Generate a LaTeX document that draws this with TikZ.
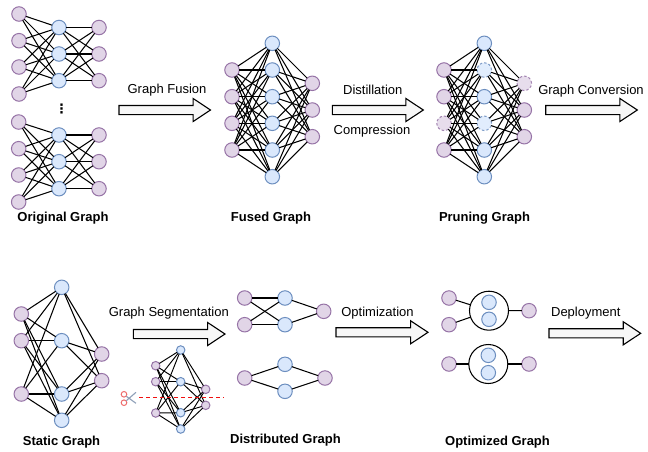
\documentclass[tikz,border=0pt]{standalone}
\usepackage{fontspec}
\setmainfont{Liberation Sans}
\newfontfamily\dotsfont{DejaVu Sans}
\usetikzlibrary{shapes.arrows}
\definecolor{pfill}{HTML}{E1D5E7}
\definecolor{pline}{HTML}{9673A6}
\definecolor{bfill}{HTML}{DAE8FC}
\definecolor{bline}{HTML}{6C8EBF}
\definecolor{cutred}{HTML}{F01010}
\definecolor{scissred}{HTML}{EE6B6B}
\definecolor{bladegrey}{HTML}{8FA0B8}
\definecolor{arrowfill}{HTML}{F7F7F7}
\tikzset{
  pnode/.style={circle,draw=pline,fill=pfill,line width=1pt,minimum size=14.5pt,inner sep=0pt,outer sep=0pt},
  bnode/.style={circle,draw=bline,fill=bfill,line width=1pt,minimum size=14.5pt,inner sep=0pt,outer sep=0pt},
  psmall/.style={pnode,minimum size=8.5pt},
  bsmall/.style={bnode,minimum size=8.5pt},
  gone/.style={dashed,dash pattern=on 2.5pt off 2pt,draw opacity=.85,fill opacity=.8},
  edge/.style={draw=black,line width=1.05pt},
  edgesmall/.style={draw=black,line width=0.95pt},
  group/.style={circle,draw=black,fill=white,line width=1.05pt,minimum size=39pt,inner sep=0pt,outer sep=0pt},
  fat/.style={single arrow,draw=black,fill=arrowfill,line width=1.1pt,inner sep=4pt,outer sep=0pt,
    single arrow head extend=7pt,single arrow tip angle=67,single arrow head indent=0pt,anchor=tail},
  lab/.style={font=\fontsize{13}{15}\selectfont,inner sep=0pt},
  title/.style={font=\fontsize{13}{15}\selectfont\bfseries,inner sep=0pt},
}
\begin{document}
\begin{tikzpicture}[x=1pt,y=-1pt]
\useasboundingbox (0,0) rectangle (648,451);
% Original graph, upper
\foreach \n/\y in {1/14,2/40.7,3/67,4/94} \node[pnode] (al\n) at (19,\y) {};
\foreach \n/\y in {1/27.5,2/54,3/80.7} {\node[bnode] (am\n) at (59,\y) {}; \node[pnode] (ar\n) at (99,\y) {};}
\foreach \a in {1,2,3,4} \foreach \b in {1,2,3} \draw[edge] (al\a) -- (am\b);
\foreach \a in {1,2,3} \foreach \b in {1,2,3} \draw[edge] (am\a) -- (ar\b);
\node[font=\dotsfont\bfseries\fontsize{13}{15}\selectfont,inner sep=0pt] (dots) at (61.5,108.7) {⋮};
% Original graph, lower
\foreach \n/\y in {1/122,2/148.7,3/175,4/202} \node[pnode] (bl\n) at (18.7,\y) {};
\foreach \n/\y in {1/135,2/161.7,3/188.7} {\node[bnode] (bm\n) at (59,\y) {}; \node[pnode] (br\n) at (99,\y) {};}
\foreach \a in {1,2,3,4} \foreach \b in {1,2,3} \draw[edge] (bl\a) -- (bm\b);
\foreach \a in {1,2,3} \foreach \b in {1,2,3} \draw[edge] (bm\a) -- (br\b);
\node[title] (t1) at (63,218.5) {Original Graph};
% Fused graph
\foreach \n/\y in {1/70,2/96.7,3/123.3,4/150} \node[pnode] (cl\n) at (232,\y) {};
\foreach \n/\y in {1/43.3,2/70,3/96.7,4/123.3,5/150,6/176.7} \node[bnode] (cm\n) at (272.3,\y) {};
\foreach \n/\y in {1/83.3,2/110,3/136.7} \node[pnode] (cr\n) at (312.3,\y) {};
\foreach \a in {1,2,3,4} \foreach \b in {1,...,6} \draw[edge] (cl\a) -- (cm\b);
\foreach \a in {1,...,6} \foreach \b in {1,2,3} \draw[edge] (cm\a) -- (cr\b);
\node[title] (t2) at (271,218.5) {Fused Graph};
% Pruning graph
\node[pnode] (dl1) at (444,70) {};
\node[pnode] (dl2) at (444,96.7) {};
\node[pnode,gone] (dl3) at (444,123.3) {};
\node[pnode] (dl4) at (444,150) {};
\node[bnode] (dm1) at (484.3,43.3) {};
\node[bnode,gone] (dm2) at (484.3,70) {};
\node[bnode] (dm3) at (484.3,96.7) {};
\node[bnode,gone] (dm4) at (484.3,123.3) {};
\node[bnode] (dm5) at (484.3,150) {};
\node[bnode] (dm6) at (484.3,176.7) {};
\node[pnode,gone] (dr1) at (524.3,83.3) {};
\node[pnode] (dr2) at (524.3,110) {};
\node[pnode] (dr3) at (524.3,136.7) {};
\foreach \a in {1,2,3,4} \foreach \b in {1,...,6} \draw[edge] (dl\a) -- (dm\b);
\foreach \a in {1,...,6} \foreach \b in {1,2,3} \draw[edge] (dm\a) -- (dr\b);
\node[title] (t3) at (484.5,218.5) {Pruning Graph};
% Static graph
\foreach \n/\y in {1/314,2/340.7,3/394} \node[pnode] (el\n) at (21.3,\y) {};
\foreach \n/\y in {1/287.3,2/340.7,3/394,4/420.3} \node[bnode] (em\n) at (61.7,\y) {};
\foreach \n/\y in {1/354,2/380.7} \node[pnode] (er\n) at (101.7,\y) {};
\foreach \a in {1,2,3} \foreach \b in {1,2,3,4} \draw[edge] (el\a) -- (em\b);
\foreach \a in {1,2,3,4} \foreach \b in {1,2} \draw[edge] (em\a) -- (er\b);
\node[title] (t4) at (61.5,442.5) {Static Graph};
% Small segmented graph
\foreach \n/\y in {1/365.7,2/381.7,3/413} \node[psmall] (fl\n) at (155.7,\y) {};
\foreach \n/\y in {1/350,2/381.7,3/412.7,4/429} \node[bsmall] (fm\n) at (180.7,\y) {};
\foreach \n/\y in {1/389.3,2/405.3} \node[psmall] (fr\n) at (205.7,\y) {};
\foreach \a in {1,2,3} \foreach \b in {1,2,3,4} \draw[edgesmall] (fl\a) -- (fm\b);
\foreach \a in {1,2,3,4} \foreach \b in {1,2} \draw[edgesmall] (fm\a) -- (fr\b);
\coordinate (cutA) at (139,397.7);
\coordinate (cutB) at (224,397.7);
\draw[draw=cutred,line width=1.1pt,dash pattern=on 4pt off 3pt] (cutA) -- (cutB);
% Scissors
\draw[draw=scissred,line width=1pt] (124,394.3) circle (2.8pt) (124,402.7) circle (2.8pt);
\draw[draw=bladegrey,line width=1.1pt] (126.3,396.3) -- (136,403.3) (126.3,400.7) -- (136,392.3);
% Distributed graph
\node[pnode] (gl1) at (244.7,298) {};
\node[pnode] (gl2) at (244.7,324.7) {};
\node[bnode] (gm1) at (285,298) {};
\node[bnode] (gm2) at (285,324.7) {};
\node[pnode] (gr) at (323.7,311.3) {};
\foreach \a in {1,2} \foreach \b in {1,2} \draw[edge] (gl\a) -- (gm\b);
\foreach \a in {1,2} \draw[edge] (gm\a) -- (gr);
\node[pnode] (hl) at (244.7,378) {};
\node[bnode] (hm1) at (285,364.3) {};
\node[bnode] (hm2) at (285,391.3) {};
\node[pnode] (hr) at (325,378) {};
\foreach \a in {1,2} \draw[edge] (hl) -- (hm\a) (hm\a) -- (hr);
\node[title] (t5) at (285.5,440.5) {Distributed Graph};
% Optimized graph
\node[pnode] (il1) at (449,298) {};
\node[pnode] (il2) at (449,324.7) {};
\node[group] (ig) at (489,310.7) {};
\node[bnode] (im1) at (489,302.3) {};
\node[bnode] (im2) at (489,319.3) {};
\node[pnode] (ir) at (529,310.7) {};
\draw[edge] (il1) -- (ig) (il2) -- (ig) (ig) -- (ir);
\node[pnode] (jl) at (449,364) {};
\node[group] (jg) at (488.3,364) {};
\node[bnode] (jm1) at (488.3,355.3) {};
\node[bnode] (jm2) at (488.3,372.7) {};
\node[pnode] (jr) at (529,364) {};
\draw[edge] (jl) -- (jg) (jg) -- (jr);
\node[title] (t6) at (497.5,442.5) {Optimized Graph};
% Big arrows and their labels
\node[fat,minimum height=91.5pt] (ar1) at (119,110) {};
\node[lab] (la1) at (167,90) {Graph Fusion};
\node[fat,minimum height=91pt] (ar2) at (332.3,110) {};
\node[lab] (la2) at (372.8,90.3) {Distillation};
\node[lab] (la3) at (372,131.5) {Compression};
\node[fat,minimum height=91.6pt] (ar3) at (545.7,110) {};
\node[lab] (la4) at (591,91) {Graph Conversion};
\node[fat,minimum height=91.7pt] (ar4) at (133.3,334) {};
\node[lab] (la5) at (168.8,313) {Graph Segmentation};
\node[fat,minimum height=92pt] (ar5) at (336,332.3) {};
\node[lab] (la6) at (377.5,313) {Optimization};
\node[fat,minimum height=91.7pt] (ar6) at (549,333.3) {};
\node[lab] (la7) at (585.8,313) {Deployment};
\end{tikzpicture}
\end{document}
